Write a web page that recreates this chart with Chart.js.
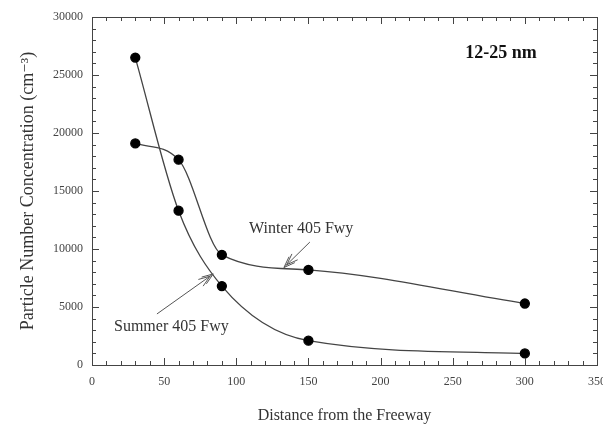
<!DOCTYPE html>
<html>
<head>
<meta charset="utf-8">
<script src="https://cdn.jsdelivr.net/npm/chart.js@4/dist/chart.umd.min.js"></script>
<style>
  html, body { margin: 0; padding: 0; background: #fff; }
  #wrap { width: 603px; height: 426px; }
</style>
</head>
<body>
<div id="wrap"><canvas id="myChart"></canvas></div>
<script>
// data
const distances = [30, 60, 90, 150, 300];
const summer = [26500, 13300, 6800, 2100, 1000];
const winter = [19100, 17700, 9500, 8200, 5300];
const xTicks = [0, 50, 100, 150, 200, 250, 300, 350];
const yTicks = [0, 5000, 10000, 15000, 20000, 25000, 30000];

const serif = "'Liberation Serif', 'DejaVu Serif', serif";

function toPoints(xs, ys) {
    return xs.map((x, i) => ({ x: x, y: ys[i] }));
}

// frame with inward ticks on all four sides
const framePlugin = {
    id: 'frame',
    afterDatasetsDraw(chart) {
        const c = chart.ctx;
        const a = chart.chartArea;
        const xs = chart.scales.x, ys = chart.scales.y;
        c.save();
        c.strokeStyle = '#444';
        c.lineWidth = 1;
        c.strokeRect(a.left + 0.5, a.top + 0.5, a.right - a.left, a.bottom - a.top);
        c.beginPath();
        for (let v = 0; v <= 350; v += 10) {
            const px = Math.round(xs.getPixelForValue(v)) + 0.5;
            const len = v % 50 === 0 ? 7 : 4;
            c.moveTo(px, a.bottom); c.lineTo(px, a.bottom - len);
            c.moveTo(px, a.top); c.lineTo(px, a.top + len);
        }
        for (let v = 0; v <= 30000; v += 1000) {
            const py = Math.round(ys.getPixelForValue(v)) + 0.5;
            const len = v % 5000 === 0 ? 7 : 4;
            c.moveTo(a.left, py); c.lineTo(a.left + len, py);
            c.moveTo(a.right, py); c.lineTo(a.right - len, py);
        }
        c.stroke();
        c.restore();
    }
};

// curve labels with open arrows
function arrow(c, x1, y1, x2, y2) {
    const ang = Math.atan2(y2 - y1, x2 - x1);
    c.beginPath();
    c.moveTo(x1, y1); c.lineTo(x2, y2);
    for (const off of [0, 4]) {
        const bx = x2 - off * Math.cos(ang), by = y2 - off * Math.sin(ang);
        for (const s of [-1, 1]) {
            c.moveTo(bx, by);
            c.lineTo(bx - 12 * Math.cos(ang + s * 0.35), by - 12 * Math.sin(ang + s * 0.35));
        }
    }
    c.stroke();
}

const labelPlugin = {
    id: 'labels',
    afterDraw(chart) {
        const c = chart.ctx;
        const xs = chart.scales.x, ys = chart.scales.y;
        const X = v => xs.getPixelForValue(v), Y = v => ys.getPixelForValue(v);
        c.save();
        c.fillStyle = '#333';
        c.strokeStyle = '#555';
        c.lineWidth = 1;
        c.font = '16px ' + serif;
        c.textAlign = 'center';
        c.textBaseline = 'middle';
        c.fillText('Winter 405 Fwy', X(145), Y(11700));
        c.fillText('Summer 405 Fwy', X(55), Y(3300));
        arrow(c, X(151), Y(10600), X(133), Y(8400));
        arrow(c, X(45), Y(4400), X(84), Y(7850));
        c.font = 'bold 18px ' + serif;
        c.fillStyle = '#111';
        c.fillText('12-25 nm', X(283.5), Y(26900));
        c.restore();
    }
};

const ctx = document.getElementById('myChart').getContext('2d');
const myChart = new Chart(ctx, {
    type: 'line',
    data: {
        datasets: [{
            label: 'Summer 405 Fwy',
            data: toPoints(distances, summer),
            borderColor: '#444',
            borderWidth: 1.3,
            pointBackgroundColor: '#000',
            pointBorderColor: '#000',
            pointRadius: 4.5,
            cubicInterpolationMode: 'monotone'
        }, {
            label: 'Winter 405 Fwy',
            data: toPoints(distances, winter),
            borderColor: '#444',
            borderWidth: 1.3,
            pointBackgroundColor: '#000',
            pointBorderColor: '#000',
            pointRadius: 4.5,
            cubicInterpolationMode: 'monotone'
        }]
    },
    options: {
        responsive: true,
        maintainAspectRatio: false,
        animation: false,
        layout: { autoPadding: false, padding: { left: 0, right: 6, top: 17, bottom: 0 } },
        plugins: { legend: { display: false }, tooltip: { enabled: false } },
        scales: {
            x: {
                type: 'linear',
                min: 0,
                max: 350,
                afterBuildTicks: s => { s.ticks = xTicks.map(v => ({ value: v })); },
                afterFit: s => { s.height = 61; s.paddingRight = 0; s.paddingLeft = 0; },
                grid: { display: false, drawTicks: false },
                border: { display: false },
                ticks: {
                    color: '#444', padding: 10, maxRotation: 0,
                    font: { family: serif, size: 12 },
                    callback: v => String(v)
                },
                title: {
                    display: true,
                    text: 'Distance from the Freeway',
                    color: '#333',
                    font: { family: serif, size: 16 },
                    padding: { top: 0, bottom: 1 }
                }
            },
            y: {
                min: 0,
                max: 30000,
                afterBuildTicks: s => { s.ticks = yTicks.map(v => ({ value: v })); },
                afterFit: s => { s.width = 92; s.paddingTop = 0; s.paddingBottom = 0; },
                grid: { display: false, drawTicks: false },
                border: { display: false },
                ticks: {
                    color: '#444', padding: 9,
                    font: { family: serif, size: 12 },
                    callback: v => String(v)
                },
                title: {
                    display: true,
                    text: 'Particle Number Concentration (cm\u207B\u00B3)',
                    color: '#333',
                    font: { family: serif, size: 18 },
                    padding: { top: 17, bottom: 0 }
                }
            }
        }
    },
    plugins: [framePlugin, labelPlugin]
});
</script>
</body>
</html>
